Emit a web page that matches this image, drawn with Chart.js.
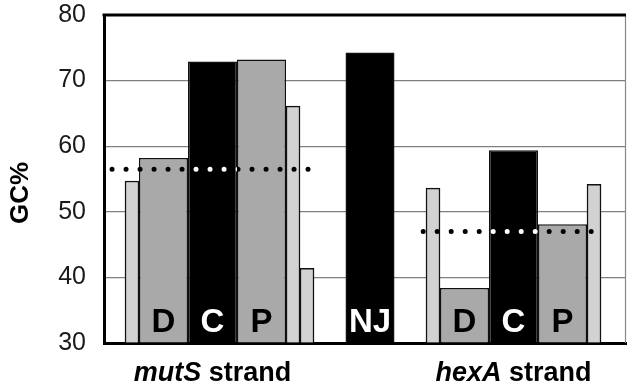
<!DOCTYPE html>
<html>
<head>
<meta charset="utf-8">
<script src="https://cdn.jsdelivr.net/npm/chart.js@4.4.0/dist/chart.umd.min.js"></script>
<style>
  html, body { margin: 0; padding: 0; background: #fff; }
  #wrap { width: 627px; height: 390px; }
</style>
</head>
<body>
<div id="wrap"><canvas id="gcChart"></canvas></div>
<script>
  // values
  const segments = ['flank', 'D', 'C', 'P', 'flank', 'flank', 'NJ', 'flank', 'D', 'C', 'P', 'flank'];
  const gcValues = [54.7, 58.2, 72.9, 73.2, 66.1, 41.4, 74.3, 53.6, 38.4, 59.4, 48.1, 54.2];
  const strandOfBar = [0, 0, 0, 0, 0, 0, -1, 1, 1, 1, 1, 1];
  const strandGenes = ['mutS', 'hexA'];
  const strandMeans = [56.5, 47.0];
  const yTicks = [30, 40, 50, 60, 70, 80];

  // layout, in x-axis units
  const NARROW = 2, WIDE = 7;
  const gapBefore = { 0: 3, 6: 4.5, 7: 4.5 };
  const X_MAX = 74.57;
  const meanSpans = [[1.15, 29.25], [45.6, 71.55]];

  const centers = [];
  let cursor = 0;
  segments.forEach((s, i) => {
    const w = s === 'flank' ? NARROW : WIDE;
    cursor += gapBefore[i] || 0;
    centers.push(cursor + w / 2);
    cursor += w;
  });

  const fills = { flank: '#d2d2d2', D: '#a9a9a9', P: '#a9a9a9', C: '#000', NJ: '#000' };
  const FONT = '"Liberation Sans", Arial, sans-serif';
  Chart.defaults.font.family = FONT;

  // narrowest spacing between bar centres is NARROW, so widths are multiples of it
  function barSet(flank) {
    const idx = segments.map((s, i) => i).filter(i => (segments[i] === 'flank') === flank);
    return {
      type: 'bar',
      idx: idx,
      data: idx.map(i => ({ x: centers[i], y: gcValues[i] })),
      backgroundColor: idx.map(i => fills[segments[i]]),
      borderColor: '#111',
      borderWidth: 1.5,
      grouped: false,
      base: 30,
      categoryPercentage: 1,
      barPercentage: flank ? 1 : WIDE / NARROW,
      order: 2
    };
  }

  const meanSets = strandMeans.map((m, k) => ({
    type: 'line',
    data: meanSpans[k].map(x => ({ x: x, y: m })),
    borderColor: '#000',
    borderWidth: 5,
    borderDash: [0, 14],
    borderCapStyle: 'round',
    pointRadius: 0,
    fill: false,
    order: 0
  }));

  const frame = {
    id: 'frame',
    beforeDatasetsDraw(chart) {
      const { ctx, chartArea: a } = chart;
      ctx.save();
      ctx.strokeStyle = '#888';
      ctx.lineWidth = 1.2;
      ctx.beginPath();
      ctx.moveTo(a.right - 0.5, a.top);
      ctx.lineTo(a.right - 0.5, a.bottom);
      ctx.stroke();
      ctx.restore();
    },
    afterDraw(chart) {
      const { ctx, chartArea: a } = chart;
      ctx.save();
      ctx.strokeStyle = '#000';
      ctx.lineWidth = 3;
      ctx.beginPath();
      ctx.moveTo(a.left - 1.5, a.top);
      ctx.lineTo(a.right, a.top);
      ctx.stroke();
      // axis title
      ctx.translate(21, 193);
      ctx.rotate(-Math.PI / 2);
      ctx.font = 'bold 26px ' + FONT;
      ctx.fillStyle = '#000';
      ctx.textAlign = 'center';
      ctx.textBaseline = 'middle';
      ctx.fillText('GC%', 0, 0);
      ctx.restore();
    }
  };

  const overlay = {
    id: 'overlay',
    afterDatasetsDraw(chart) {
      const ctx = chart.ctx;
      const bottom = chart.chartArea.bottom;
      const blacks = [];
      const cBars = {};
      ctx.save();
      ctx.textAlign = 'center';
      ctx.textBaseline = 'alphabetic';
      ctx.font = 'bold 33px ' + FONT;
      chart.data.datasets.forEach((ds, d) => {
        if (ds.type !== 'bar') return;
        chart.getDatasetMeta(d).data.forEach((el, j) => {
          const i = ds.idx[j];
          const p = el.getProps(['x', 'y', 'base', 'width'], true);
          const seg = segments[i];
          if (seg === 'flank') return;
          const dark = fills[seg] === '#000';
          if (dark) blacks.push(p);
          if (seg === 'C') cBars[strandOfBar[i]] = p.x;
          ctx.fillStyle = dark ? '#fff' : '#000';
          ctx.fillText(seg, p.x, bottom - 11);
        });
      });
      ctx.restore();

      // dots turn white where they run over black bars
      chart.data.datasets.forEach((ds, d) => {
        if (ds.type !== 'line') return;
        const pts = chart.getDatasetMeta(d).data;
        ctx.save();
        ctx.beginPath();
        blacks.forEach(b => ctx.rect(b.x - b.width / 2, b.y, b.width, bottom - b.y));
        ctx.clip();
        ctx.beginPath();
        ctx.setLineDash([0, 14]);
        ctx.lineCap = 'round';
        ctx.lineWidth = 5;
        ctx.strokeStyle = '#fff';
        ctx.moveTo(pts[0].x, pts[0].y);
        ctx.lineTo(pts[pts.length - 1].x, pts[pts.length - 1].y);
        ctx.stroke();
        ctx.restore();
      });

      // strand labels under each group
      ctx.save();
      ctx.fillStyle = '#000';
      ctx.textBaseline = 'alphabetic';
      ctx.textAlign = 'left';
      strandGenes.forEach((g, k) => {
        const it = 'italic bold 27px ' + FONT, rg = 'bold 27px ' + FONT;
        ctx.font = it; const w1 = ctx.measureText(g).width;
        ctx.font = rg; const w2 = ctx.measureText(' strand').width;
        const x0 = cBars[k] - (w1 + w2) / 2;
        ctx.font = it; ctx.fillText(g, x0, 381);
        ctx.font = rg; ctx.fillText(' strand', x0 + w1, 381);
      });
      ctx.restore();
    }
  };

  new Chart(document.getElementById('gcChart'), {
    type: 'bar',
    data: { datasets: [barSet(true), barSet(false)].concat(meanSets) },
    options: {
      responsive: true,
      maintainAspectRatio: false,
      animation: false,
      layout: { padding: { top: 0, right: 1 } },
      plugins: { legend: { display: false }, tooltip: { enabled: false } },
      scales: {
        x: {
          type: 'linear',
          min: 0,
          max: X_MAX,
          offset: false,
          ticks: { display: false },
          grid: { display: false, drawTicks: false },
          border: { color: '#000', width: 3 },
          afterFit: s => { s.height = 47; }
        },
        y: {
          min: 30,
          max: 80,
          afterBuildTicks: s => { s.ticks = yTicks.map(v => ({ value: v })); },
          ticks: { font: { size: 25 }, color: '#1a1a1a', padding: 0 },
          grid: { drawTicks: true, tickLength: 18, tickColor: 'rgba(0,0,0,0)', color: '#808080', lineWidth: 1.2 },
          border: { color: '#000', width: 3 },
          afterFit: s => { s.width = 104; }
        }
      }
    },
    plugins: [frame, overlay]
  });
</script>
</body>
</html>
